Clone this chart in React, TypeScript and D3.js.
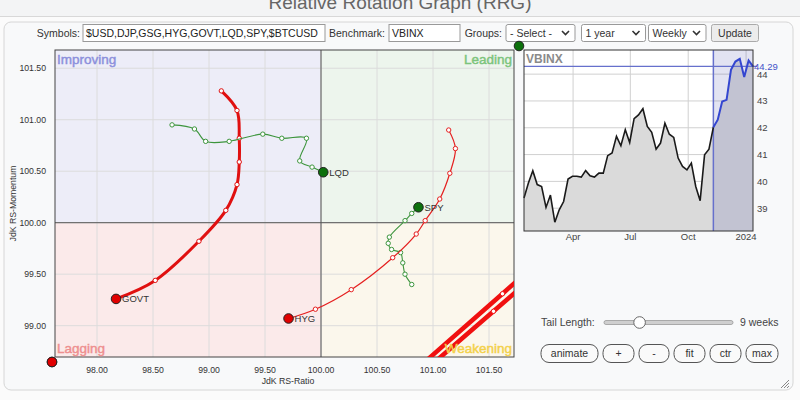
import React from 'react';
import * as d3 from 'd3';

const symbolsText = '$USD,DJP,GSG,HYG,GOVT,LQD,SPY,$BTCUSD';
const benchmark = 'VBINX';
const groupText = '- Select -';
const periodText = '1 year';
const freqText = 'Weekly';
const tailLength = 9;

const ratioTicks = [98, 98.5, 99, 99.5, 100, 100.5, 101, 101.5];
const momentumTicks = [99, 99.5, 100, 100.5, 101, 101.5];

// tails, oldest point first, head last
const govtRatio = [99.11, 99.25, 99.27, 99.27, 99.25, 99.15, 98.91, 98.52, 98.17];
const govtMomentum = [101.28, 101.09, 100.82, 100.59, 100.37, 100.12, 99.82, 99.44, 99.26];

const lqdRatio = [98.67, 98.87, 98.97, 99.18, 99.48, 99.65, 99.87, 99.81, 99.92, 100.02];
const lqdMomentum = [100.95, 100.91, 100.79, 100.79, 100.86, 100.82, 100.82, 100.6, 100.54, 100.49];

const spyRatio = [100.81, 100.75, 100.73, 100.71, 100.63, 100.6, 100.61, 100.75, 100.81, 100.87];
const spyMomentum = [99.4, 99.5, 99.61, 99.71, 99.74, 99.8, 99.86, 100.02, 100.09, 100.15];

const hygRatio = [101.14, 101.2, 101.15, 101.06, 100.93, 100.85, 100.64, 100.27, 99.95, 99.71];
const hygMomentum = [100.9, 100.72, 100.48, 100.23, 100.02, 99.89, 99.66, 99.35, 99.16, 99.07];

// these run mostly off the visible area
const gsgRatio = [102.3, 101.62, 100.95, 100.3, 97.4];
const gsgMomentum = [99.97, 99.31, 98.67, 98.05, 95.6];
const djpRatio = [102.3, 101.54, 100.9, 100.2, 97.3];
const djpMomentum = [99.86, 99.14, 98.54, 97.9, 95.4];
const btcRatio = [103.6, 104.1, 104.4];
const btcMomentum = [102.5, 103.0, 103.2];

const tails = [
  { name: 'GOVT', ratio: govtRatio, momentum: govtMomentum, label: true },
  { name: 'LQD', ratio: lqdRatio, momentum: lqdMomentum, label: true },
  { name: 'SPY', ratio: spyRatio, momentum: spyMomentum, label: true },
  { name: 'HYG', ratio: hygRatio, momentum: hygMomentum, label: true },
  { name: 'GSG', ratio: gsgRatio, momentum: gsgMomentum, label: false },
  { name: 'DJP', ratio: djpRatio, momentum: djpMomentum, label: false },
  { name: '$BTCUSD', ratio: btcRatio, momentum: btcMomentum, label: false },
];

const tailStyle: Record<string, { color: string; head: string; width: number }> = {
  GOVT: { color: '#e01010', head: '#e00000', width: 3 },
  LQD: { color: '#3d953d', head: '#0c700c', width: 1.1 },
  SPY: { color: '#3d953d', head: '#0c700c', width: 1.1 },
  HYG: { color: '#e52020', head: '#e00000', width: 1.2 },
  GSG: { color: '#f01010', head: '#e00000', width: 4.5 },
  DJP: { color: '#f01010', head: '#e00000', width: 4.5 },
  $BTCUSD: { color: '#3d953d', head: '#0c700c', width: 1.1 },
};

// benchmark weekly closes, Jan 2023 - Jan 2024
const vbinxCloses = [
  39.38, 39.94, 40.4, 39.88, 39.81, 39.03, 39.49, 38.48, 38.94, 39.25,
  40.09, 40.19, 40.19, 40.16, 40.4, 40.21, 40.16, 40.31, 40.31, 40.96,
  41.06, 41.68, 41.33, 41.93, 41.45, 42.34, 42.48, 42.71, 42.05, 41.83,
  41.2, 41.43, 42.17, 41.76, 41.64, 40.87, 40.56, 40.43, 40.68, 39.81,
  39.28, 40.99, 41.2, 42.02, 42.3, 42.98, 43.04, 44.16, 44.47, 44.57,
  43.89, 44.51, 44.29,
];
const vbinxStart = new Date(2023, 0, 13);
const insetYTicks = [39, 40, 41, 42, 43, 44];
const insetMonthTicks = [new Date(2023, 3, 1), new Date(2023, 6, 1), new Date(2023, 9, 1), new Date(2024, 0, 1)];

const buttonLabels = ['animate', '+', '-', 'fit', 'ctr', 'max'];

const FONT = '"Liberation Sans", Arial, sans-serif';
const plot = { left: 55, right: 514, top: 50, bottom: 357 };
const inset = { left: 524, right: 753, top: 50, bottom: 231 };

const x = d3.scaleLinear().domain([97.625, 101.723]).range([plot.left, plot.right]);
const y = d3.scaleLinear().domain([98.696, 101.677]).range([plot.bottom, plot.top]);
const fmt = d3.format('.2f');

const Select = ({ x0, x1, text }: { x0: number; x1: number; text: string }) => (
  <g>
    <rect x={x0} y={24.5} width={x1 - x0} height={17} rx={2} fill="#fff" stroke="#999" />
    <text x={x0 + 4} y={37} fontSize={10.5} fill="#333">{text}</text>
    <path d={`M${x1 - 13},31 l3.5,3.5 l3.5,-3.5`} fill="none" stroke="#333" strokeWidth={1.6} />
  </g>
);

export default function App() {
  const line = d3.line<[number, number]>()
    .x(d => x(d[0]))
    .y(d => y(d[1]))
    .curve(d3.curveCatmullRom.alpha(0.5));

  const headX = (v: number) => Math.max(plot.left - 3, Math.min(plot.right + 5, x(v)));
  const headY = (v: number) => Math.max(plot.top - 4, Math.min(plot.bottom + 5, y(v)));

  const dates = vbinxCloses.map((_, i) => d3.timeDay.offset(vbinxStart, i * 7));
  const ix = d3.scaleTime().domain([dates[0], dates[dates.length - 1]]).range([inset.left, inset.right]);
  const iy = d3.scaleLinear().domain([38.15, 44.9]).range([inset.bottom, inset.top]);
  const pts: [Date, number][] = dates.map((d, i) => [d, vbinxCloses[i]]);
  const tailStart = pts.length - 1 - tailLength;
  const iline = d3.line<[Date, number]>().x(d => ix(d[0])).y(d => iy(d[1]));
  const iarea = d3.area<[Date, number]>().x(d => ix(d[0])).y0(inset.bottom).y1(d => iy(d[1]));
  const monthFmt = (d: Date) => (d.getMonth() === 0 ? d3.timeFormat('%Y')(d) : d3.timeFormat('%b')(d));
  const last = vbinxCloses[vbinxCloses.length - 1];

  const slider = d3.scaleLinear().domain([1, 30]).range([604, 733]);

  const quads = [
    { x0: 97.625, x1: 100, y0: 100, y1: 101.677, fill: '#ededf8', label: 'Improving', color: '#8c90dc', anchor: 'start' },
    { x0: 100, x1: 101.723, y0: 100, y1: 101.677, fill: '#edf5ed', label: 'Leading', color: '#7cc47c', anchor: 'end' },
    { x0: 97.625, x1: 100, y0: 98.696, y1: 100, fill: '#fbeaea', label: 'Lagging', color: '#ee8f8f', anchor: 'start' },
    { x0: 100, x1: 101.723, y0: 98.696, y1: 100, fill: '#fbf7ec', label: 'Weakening', color: '#f3d14a', anchor: 'end' },
  ];

  let bx = 541;
  const buttonWidths = [57, 31, 30, 31, 31, 32];

  return (
    <svg width={800} height={400} style={{ position: 'absolute', left: 0, top: 0, fontFamily: FONT }}>
      <rect width={800} height={400} fill="#fbfbfb" />
      <rect width={800} height={16} fill="#f3f4f5" />
      <line x1={0} x2={800} y1={16.5} y2={16.5} stroke="#d8d8d8" />
      <text x={400} y={9} textAnchor="middle" fontSize={19} fill="#666">Relative Rotation Graph (RRG)</text>
      <rect x={4} y={22} width={789} height={368} rx={7} fill="#f8f9fa" stroke="#d6d6d6" />

      {/* form row */}
      <text x={80} y={37} textAnchor="end" fontSize={10.5} fill="#333">Symbols:</text>
      <rect x={83} y={24.5} width={242} height={17} fill="#fff" stroke="#999" />
      <text x={86} y={37} fontSize={10.5} fill="#222">{symbolsText}</text>
      <text x={385} y={37} textAnchor="end" fontSize={10.5} fill="#333">Benchmark:</text>
      <rect x={389} y={24.5} width={71} height={17} fill="#fff" stroke="#999" />
      <text x={392} y={37} fontSize={10.5} fill="#222">{benchmark}</text>
      <text x={502} y={37} textAnchor="end" fontSize={10.5} fill="#333">Groups:</text>
      <Select x0={506} x1={575} text={groupText} />
      <Select x0={581.5} x1={645.5} text={periodText} />
      <Select x0={648.5} x1={706} text={freqText} />
      <rect x={711.5} y={24.5} width={47} height={17} rx={2} fill="#ececec" stroke="#aaa" />
      <text x={735} y={37} textAnchor="middle" fontSize={10.5} fill="#333">Update</text>

      {/* quadrants */}
      {quads.map(q => (
        <rect key={q.label} x={x(q.x0)} y={y(q.y1)} width={x(q.x1) - x(q.x0)} height={y(q.y0) - y(q.y1)} fill={q.fill} />
      ))}
      {ratioTicks.map(t => (
        <line key={'gx' + t} x1={x(t)} x2={x(t)} y1={plot.top} y2={plot.bottom} stroke="#dcdcdc" />
      ))}
      {momentumTicks.map(t => (
        <line key={'gy' + t} x1={plot.left} x2={plot.right} y1={y(t)} y2={y(t)} stroke="#dcdcdc" />
      ))}
      <line x1={x(100)} x2={x(100)} y1={plot.top} y2={plot.bottom} stroke="#555" />
      <line x1={plot.left} x2={plot.right} y1={y(100)} y2={y(100)} stroke="#555" />
      <rect x={plot.left} y={plot.top} width={plot.right - plot.left} height={plot.bottom - plot.top} fill="none" stroke="#444" />

      {ratioTicks.map(t => (
        <text key={'tx' + t} x={x(t)} y={373} textAnchor="middle" fontSize={8.7} fill="#333">{fmt(t)}</text>
      ))}
      {momentumTicks.map(t => (
        <text key={'ty' + t} x={46} y={y(t) + 3} textAnchor="end" fontSize={8.7} fill="#333">{fmt(t)}</text>
      ))}
      <text x={288} y={384} textAnchor="middle" fontSize={8.7} fill="#333">JdK RS-Ratio</text>
      <text transform={`translate(16,${(plot.top + plot.bottom) / 2}) rotate(-90)`} textAnchor="middle" fontSize={8.7} fill="#333">JdK RS-Momentum</text>

      {/* tails */}
      <defs>
        <clipPath id="plotClip">
          <rect x={plot.left} y={plot.top} width={plot.right - plot.left} height={plot.bottom - plot.top} />
        </clipPath>
      </defs>
      <g clipPath="url(#plotClip)">
        {tails.map(s => {
          const st = tailStyle[s.name];
          const data = s.ratio.map((r, i) => [r, s.momentum[i]] as [number, number]);
          return (
            <g key={s.name}>
              <path d={line(data) || ''} fill="none" stroke={st.color} strokeWidth={st.width} />
              {data.slice(0, -1).map((d, i) => (
                <circle key={i} cx={x(d[0])} cy={y(d[1])} r={2.2} fill="#fff" stroke={st.color} strokeWidth={1} />
              ))}
            </g>
          );
        })}
      </g>
      {quads.map(q => (
        <text key={'l' + q.label} x={q.anchor === 'start' ? plot.left + 2 : plot.right - 2}
          y={q.y1 > 101 ? plot.top + 14 : plot.bottom - 4} textAnchor={q.anchor as any}
          fontSize={13.5} fill={q.color} stroke={q.color} strokeWidth={0.45}>{q.label}</text>
      ))}
      {tails.map(s => {
        const st = tailStyle[s.name];
        const hr = s.ratio[s.ratio.length - 1];
        const hm = s.momentum[s.momentum.length - 1];
        return (
          <g key={'h' + s.name}>
            <circle cx={headX(hr)} cy={headY(hm)} r={4.8} fill={st.head} stroke="#222" strokeWidth={1} />
            {s.label && (
              <text x={headX(hr) + 6} y={headY(hm) + 3.5} fontSize={9.5} fill="#333">{s.name}</text>
            )}
          </g>
        );
      })}

      {/* benchmark inset */}
      <rect x={inset.left} y={inset.top} width={inset.right - inset.left} height={inset.bottom - inset.top} fill="#fff" />
      {insetYTicks.map(t => (
        <line key={'iy' + t} x1={inset.left} x2={inset.right} y1={iy(t)} y2={iy(t)} stroke="#d0d0d0" />
      ))}
      {insetMonthTicks.map(t => (
        <line key={'ix' + t.getTime()} x1={ix(t)} x2={ix(t)} y1={inset.top} y2={inset.bottom} stroke="#d0d0d0" />
      ))}
      <path d={iarea(pts) || ''} fill="#dadada" />
      <rect x={ix(dates[tailStart])} y={inset.top} width={inset.right - ix(dates[tailStart])} height={inset.bottom - inset.top} fill="#3c46aa" fillOpacity={0.15} />
      <line x1={ix(dates[tailStart])} x2={ix(dates[tailStart])} y1={inset.top} y2={inset.bottom} stroke="#6670cc" strokeWidth={1.5} />
      <line x1={inset.left} x2={inset.right + 4} y1={iy(last)} y2={iy(last)} stroke="#6670cc" strokeWidth={1.2} />
      <path d={iline(pts.slice(0, tailStart + 1)) || ''} fill="none" stroke="#1a1a1a" strokeWidth={1.6} />
      <path d={iline(pts.slice(tailStart)) || ''} fill="none" stroke="#3446d0" strokeWidth={2} />
      <rect x={inset.left} y={inset.top} width={inset.right - inset.left} height={inset.bottom - inset.top} fill="none" stroke="#333" />
      <text x={inset.left + 2} y={inset.top + 12.5} fontSize={12} fontWeight="bold" fill="#8a8a8a">{benchmark}</text>
      {insetYTicks.map(t => (
        <text key={'iyl' + t} x={inset.right + 4} y={iy(t) + 3.5} fontSize={9.5} fill="#444">{t}</text>
      ))}
      <text x={inset.right + 1} y={iy(last) + 3.5} fontSize={9.5} fill="#4452c8">{last.toFixed(2)}</text>
      {insetMonthTicks.map(t => (
        <text key={'ixl' + t.getTime()} x={ix(t)} y={240} textAnchor="middle" fontSize={9.5} fill="#444">{monthFmt(t)}</text>
      ))}

      {/* controls */}
      <text x={541} y={326} fontSize={10.5} fill="#444">Tail Length:</text>
      <rect x={604} y={320.5} width={129} height={4} rx={2} fill="#cfcfcf" stroke="#999" strokeWidth={0.8} />
      <circle cx={slider(tailLength)} cy={322.5} r={5.8} fill="#fff" stroke="#666" />
      <text x={740} y={326} fontSize={10.5} fill="#444">{tailLength} weeks</text>
      {buttonLabels.map((b, i) => {
        const x0 = bx;
        bx += buttonWidths[i] + 5;
        return (
          <g key={b}>
            <rect x={x0} y={344.5} width={buttonWidths[i]} height={18} rx={8} fill="#fafafa" stroke="#555" />
            <text x={x0 + buttonWidths[i] / 2} y={357} textAnchor="middle" fontSize={10.5} fill="#333">{b}</text>
          </g>
        );
      })}
      <path d="M781,388 l8,-8 M784,388 l5,-5 M787,388 l2,-2" stroke="#888" strokeWidth={1} />
    </svg>
  );
}
